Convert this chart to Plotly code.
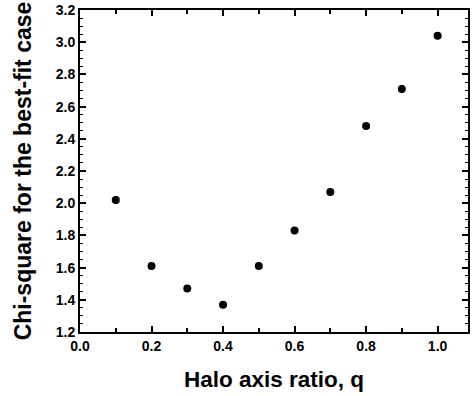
import plotly.graph_objects as go

q = [0.1, 0.2, 0.3, 0.4, 0.5, 0.6, 0.7, 0.8, 0.9, 1.0]
chi2 = [2.02, 1.61, 1.47, 1.37, 1.61, 1.83, 2.07, 2.48, 2.71, 3.04]
xticks = [0, 0.2, 0.4, 0.6, 0.8, 1.0]
yticks = [1.2, 1.4, 1.6, 1.8, 2.0, 2.2, 2.4, 2.6, 2.8, 3.0, 3.2]

fig = go.Figure(go.Scatter(x=q, y=chi2, mode="markers",
                           marker=dict(color="black", size=8)))

fig.update_layout(
    width=472, height=396,
    margin=dict(l=80, r=2, t=10, b=64),
    plot_bgcolor="white", paper_bgcolor="white",
    showlegend=False,
    font=dict(family="Liberation Sans", color="black"),
)
fig.update_xaxes(
    range=[0, 1.085], tickmode="array",
    tickvals=xticks,
    ticktext=["<b>%.1f</b>" % v for v in xticks],
    ticks="inside", ticklen=6, tickwidth=1.5, tickcolor="black",
    minor=dict(dtick=0.1, tick0=0, ticks="inside", ticklen=4, tickwidth=1.5, tickcolor="black"),
    showline=True, linecolor="black", linewidth=2, mirror="ticks",
    showgrid=False, zeroline=False,
    tickfont=dict(size=14, family="Liberation Sans", color="black"),
    title=dict(text="<b>Halo axis ratio, q</b>", font=dict(size=22.5, family="Liberation Sans", color="black"), standoff=18),
)
fig.update_yaxes(
    range=[1.2, 3.2], tickmode="array",
    tickvals=yticks,
    ticktext=["<b>%.1f</b>" % v for v in yticks],
    ticks="inside", ticklen=6, tickwidth=1.5, tickcolor="black",
    minor=dict(dtick=0.05, tick0=1.2, ticks="inside", ticklen=3, tickwidth=1.2, tickcolor="black"),
    showline=True, linecolor="black", linewidth=2, mirror="ticks",
    showgrid=False, zeroline=False,
    tickfont=dict(size=14, family="Liberation Sans", color="black"),
    title=dict(text="<b>Chi-square for the best-fit case</b>", font=dict(size=23, family="Liberation Sans", color="black"), standoff=18),
)
fig.write_html("out.html")
